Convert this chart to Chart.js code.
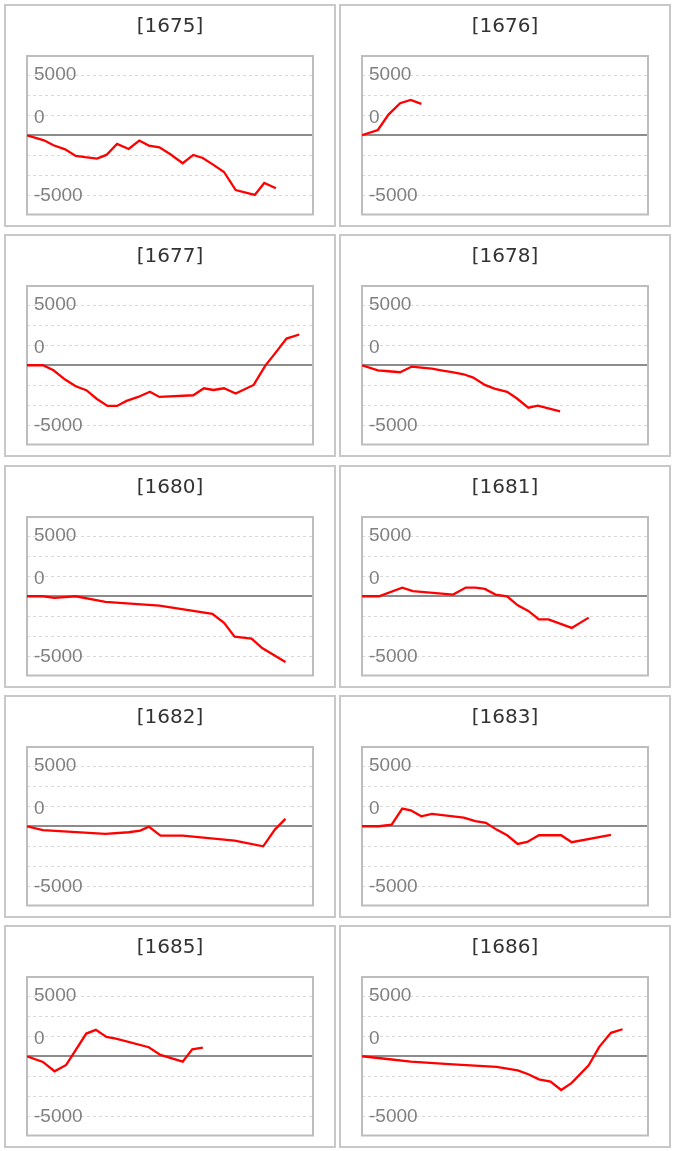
<!DOCTYPE html>
<html>
<head>
<meta charset="utf-8">
<script src="https://cdn.jsdelivr.net/npm/chart.js@4/dist/chart.umd.min.js"></script>
<style>
    body { margin: 0; background: #fff; }
    .grid {
        display: grid;
        grid-template-columns: 332px 332px;
        column-gap: 3px;
        row-gap: 7.3px;
        padding: 4px 0 0 4px;
    }
    .panel {
        width: 332px;
        height: 223px;
        border: 2px solid #c8c8c8;
        box-sizing: border-box;
        background: #fff;
    }
    .panel canvas { display: block; }
</style>
</head>
<body>
<div class="grid" id="grid"></div>
<script>
// years shown in each panel, left to right, top to bottom
var titles = ['[1675]', '[1676]', '[1677]', '[1678]', '[1680]', '[1681]', '[1682]', '[1683]', '[1685]', '[1686]'];

var x1675 = [0, 1.6, 2.5, 3.6, 4.6, 5.5, 6.6, 7.5, 8.5, 9.6, 10.6, 11.5, 12.5, 13.5, 14.7, 15.7, 16.6, 17.6, 18.6, 19.7, 21.5, 22.4, 23.5];
var y1675 = [0, -420, -830, -1170, -1720, -1830, -1940, -1640, -720, -1140, -440, -860, -1000, -1560, -2330, -1640, -1890, -2470, -3060, -4560, -4970, -3970, -4420];

var x1676 = [0, 1.5, 2.5, 3.6, 4.6, 5.6];
var y1676 = [0, 440, 1720, 2670, 2940, 2610];

var x1677 = [0, 1.5, 2.5, 3.6, 4.6, 5.6, 6.6, 7.6, 8.5, 9.4, 10.5, 11.6, 12.5, 15.7, 16.7, 17.6, 18.6, 19.7, 21.4, 22.5, 23.4, 24.5, 25.7];
var y1677 = [0, 0, -420, -1190, -1750, -2080, -2810, -3390, -3390, -2970, -2640, -2200, -2640, -2500, -1920, -2060, -1920, -2360, -1640, -30, 970, 2220, 2560];

var x1678 = [0, 1.5, 2.5, 3.6, 4.7, 5.6, 6.6, 7.6, 8.5, 9.6, 10.5, 11.6, 12.5, 13.7, 14.6, 15.7, 16.6, 17.6, 18.7];
var y1678 = [0, -420, -500, -580, -110, -190, -280, -440, -580, -750, -1030, -1640, -1950, -2220, -2750, -3530, -3360, -3590, -3840];

var x1680 = [0, 1.5, 2.6, 4.6, 7.4, 12.5, 17.5, 18.6, 19.6, 21.2, 22.2, 24.4];
var y1680 = [0, 0, -140, 0, -470, -780, -1470, -2220, -3360, -3530, -4310, -5480];

var x1681 = [0, 1.6, 3.8, 4.8, 8.6, 9.8, 10.7, 11.6, 12.6, 13.7, 14.7, 15.7, 16.7, 17.6, 19.8, 21.4];
var y1681 = [0, 0, 720, 420, 140, 720, 720, 610, 140, 0, -750, -1220, -1920, -1920, -2640, -1780];

var x1682 = [0, 1.5, 7.4, 9.6, 10.7, 11.5, 12.6, 14.7, 19.6, 22.3, 23.4, 24.4];
var y1682 = [0, -330, -640, -500, -360, -30, -780, -780, -1200, -1670, -280, 610];

var x1683 = [0, 1.6, 2.8, 3.8, 4.6, 5.6, 6.6, 9.6, 10.7, 11.7, 12.7, 13.7, 14.7, 15.6, 16.7, 18.8, 19.8, 23.5];
var y1683 = [0, 0, 140, 1470, 1330, 830, 1030, 720, 420, 280, -280, -750, -1470, -1310, -750, -750, -1330, -720];

var x1685 = [0, 1.5, 2.6, 3.7, 5.6, 6.5, 7.5, 8.4, 11.5, 12.6, 14.7, 15.6, 16.6];
var y1685 = [0, -470, -1250, -720, 1890, 2200, 1610, 1470, 750, 110, -450, 580, 720];

var x1686 = [0, 2.6, 4.6, 8.6, 12.7, 14.7, 15.7, 16.7, 17.8, 18.8, 19.8, 21.4, 22.4, 23.5, 24.6];
var y1686 = [0, -250, -440, -670, -890, -1170, -1500, -1920, -2110, -2810, -2220, -750, 780, 1950, 2250];

var xSeries = [x1675, x1676, x1677, x1678, x1680, x1681, x1682, x1683, x1685, x1686];
var ySeries = [y1675, y1676, y1677, y1678, y1680, y1681, y1682, y1683, y1685, y1686];

// grid lines every 5000/3, only three of them labelled
var yTicks = [-5000, -3333.33, -1666.67, 0, 1666.67, 3333.33, 5000];
var yTickLabels = ['-5000', '', '', '0', '', '', '5000'];

var xMin = 0, xMax = 27;
var yMin = -6600, yMax = 6600;

// grey box round the plot area
var framePlugin = {
    id: 'frame',
    beforeDatasetsDraw: function(chart) {
        var a = chart.chartArea;
        var ctx = chart.ctx;
        ctx.save();
        ctx.strokeStyle = '#bdbdbd';
        ctx.lineWidth = 2;
        ctx.strokeRect(a.left, a.top, a.right - a.left, a.bottom - a.top);
        ctx.restore();
    }
};

function tickFont(ctx) {
    // the "0" label sits above the axis line in the original, so it gets a tall line box
    if (ctx.tick && ctx.tick.value === 0) {
        return { family: 'Liberation Sans', size: 19, lineHeight: '34px' };
    }
    return { family: 'Liberation Sans', size: 19 };
}

function makeChart(canvas, title, xs, ys) {
    var points = xs.map(function(v, i) { return { x: v, y: ys[i] }; });

    return new Chart(canvas.getContext('2d'), {
        type: 'line',
        data: {
            datasets: [{
                data: points,
                borderColor: '#ff0000',
                borderWidth: 2.3,
                pointRadius: 0,
                tension: 0,
                fill: false
            }]
        },
        plugins: [framePlugin],
        options: {
            responsive: false,
            animation: false,
            events: [],
            layout: { padding: { left: 21, right: 21, top: 0, bottom: 10.5 } },
            plugins: {
                legend: { display: false },
                tooltip: { enabled: false },
                title: {
                    display: true,
                    text: title,
                    color: '#333',
                    font: { family: 'DejaVu Sans', size: 20, weight: 'normal', lineHeight: 1.2 },
                    padding: { top: 9, bottom: 17 }
                }
            },
            scales: {
                x: {
                    type: 'linear',
                    min: xMin,
                    max: xMax,
                    display: false
                },
                y: {
                    type: 'linear',
                    min: yMin,
                    max: yMax,
                    afterBuildTicks: function(scale) {
                        scale.ticks = yTicks.map(function(v) { return { value: v }; });
                    },
                    afterFit: function(scale) {
                        scale.width = 0;
                        scale.paddingTop = 0;
                        scale.paddingBottom = 0;
                    },
                    border: {
                        display: false,
                        dash: function(ctx) {
                            return ctx.tick && ctx.tick.value === 0 ? [] : [3, 3];
                        }
                    },
                    grid: {
                        drawTicks: false,
                        color: function(ctx) {
                            return ctx.tick && ctx.tick.value === 0 ? '#8c8c8c' : '#d8d8d8';
                        },
                        lineWidth: function(ctx) {
                            return ctx.tick && ctx.tick.value === 0 ? 2 : 1;
                        }
                    },
                    ticks: {
                        mirror: true,
                        padding: 7,
                        autoSkip: false,
                        color: '#808080',
                        font: tickFont,
                        callback: function(value) {
                            var label = yTickLabels[yTicks.indexOf(value)];
                            if (label === '0') {
                                return ['0', ''];
                            }
                            return label;
                        }
                    }
                }
            }
        }
    });
}

var grid = document.getElementById('grid');
for (var i = 0; i < titles.length; i++) {
    var panel = document.createElement('div');
    panel.className = 'panel';
    var canvas = document.createElement('canvas');
    canvas.width = 328;
    canvas.height = 219;
    panel.appendChild(canvas);
    grid.appendChild(panel);
    makeChart(canvas, titles[i], xSeries[i], ySeries[i]);
}
</script>
</body>
</html>
